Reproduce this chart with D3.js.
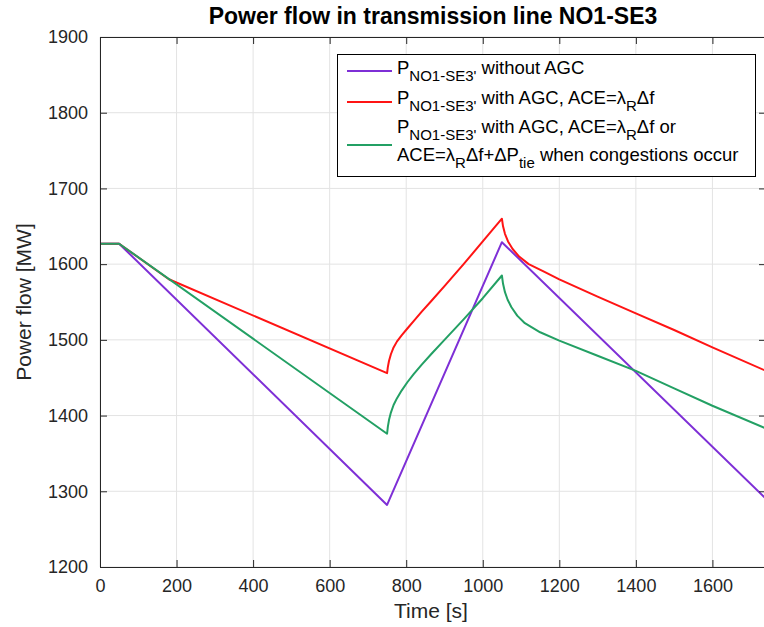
<!DOCTYPE html>
<html>
<head>
<meta charset="utf-8">
<script src="https://cdn.jsdelivr.net/npm/d3@7"></script>
<style>
  html, body { margin: 0; padding: 0; background: #fff; }
  svg { display: block; font-family: "Liberation Sans", Arial, Helvetica, sans-serif; }
</style>
</head>
<body>
<svg id="chart" width="764" height="627"></svg>
<script>
// ---- data ----
const xTicks = [0, 200, 400, 600, 800, 1000, 1200, 1400, 1600];
const yTicks = [1200, 1300, 1400, 1500, 1600, 1700, 1800, 1900];

const purpleT = [0, 50, 750, 1050, 1740];
const purpleP = [1627, 1627, 1282, 1629, 1290];

const redT = [0, 50, 180, 750, 752, 755, 760, 767, 776, 788, 803, 820, 840, 865, 900, 950, 1000, 1050,
              1053, 1058, 1066, 1078, 1095, 1120, 1160, 1200, 1300, 1400, 1500, 1600, 1740];
const redP = [1627, 1627, 1580, 1456, 1464, 1472, 1481, 1490, 1498, 1506, 1515, 1525, 1537, 1551, 1571, 1600, 1630, 1660,
              1650, 1640, 1630, 1620, 1610, 1600, 1590, 1580, 1557, 1535, 1513, 1490, 1459];

const greenT = [0, 50, 750, 752, 755, 760, 767, 776, 788, 803, 820, 840, 865, 900, 950, 1000, 1050,
                1053, 1058, 1065, 1075, 1090, 1110, 1150, 1200, 1300, 1400, 1500, 1600, 1740];
const greenP = [1627, 1627, 1376, 1385, 1394, 1404, 1414, 1423, 1433, 1444, 1455, 1467, 1481, 1500, 1527, 1555, 1585,
                1574, 1563, 1553, 1543, 1532, 1522, 1510, 1499, 1479, 1459, 1436, 1413, 1383];

const seriesColors = ["#7e2fd6", "#ff1414", "#23a064"];

// ---- layout ----
const svg = d3.select("#chart");
const L = 100, R = 766, T = 37, B = 567;
const x = d3.scaleLinear().domain([0, 1740]).range([L, R]);
const y = d3.scaleLinear().domain([1200, 1900]).range([B, T]);

const axisColor = "#262626";
const gridColor = "#e3e3e3";

// grid
const g = svg.append("g");
g.selectAll(".gx").data(xTicks).enter().append("line")
  .attr("x1", d => x(d)).attr("x2", d => x(d)).attr("y1", T).attr("y2", B)
  .attr("stroke", gridColor).attr("stroke-width", 1);
g.selectAll(".gy").data(yTicks).enter().append("line")
  .attr("x1", L).attr("x2", R).attr("y1", d => y(d)).attr("y2", d => y(d))
  .attr("stroke", gridColor).attr("stroke-width", 1);

// clip
svg.append("clipPath").attr("id", "clip").append("rect")
  .attr("x", L).attr("y", T).attr("width", R - L).attr("height", B - T);

const line = d3.line().x(d => x(d[0])).y(d => y(d[1]));
const series = [
  d3.zip(purpleT, purpleP),
  d3.zip(redT, redP),
  d3.zip(greenT, greenP)
];
const plot = svg.append("g").attr("clip-path", "url(#clip)");
series.forEach((s, i) => {
  plot.append("path").datum(s).attr("d", line)
    .attr("fill", "none").attr("stroke", seriesColors[i])
    .attr("stroke-width", 2).attr("stroke-linejoin", "round");
});

// axes (ticks inward)
const tickLen = 7;
const fmt = d3.format("d");
const xb = svg.append("g").attr("transform", `translate(0,${B})`)
  .call(d3.axisBottom(x).tickValues(xTicks).tickSize(-tickLen).tickPadding(12).tickFormat(fmt));
const xt = svg.append("g").attr("transform", `translate(0,${T})`)
  .call(d3.axisTop(x).tickValues(xTicks).tickSize(-tickLen).tickFormat(""));
const yl = svg.append("g").attr("transform", `translate(${L},0)`)
  .call(d3.axisLeft(y).tickValues(yTicks).tickSize(-tickLen).tickPadding(12).tickFormat(fmt));
const yr = svg.append("g").attr("transform", `translate(${R},0)`)
  .call(d3.axisRight(y).tickValues(yTicks).tickSize(-tickLen).tickFormat(""));
[xb, xt, yl, yr].forEach(a => {
  a.select(".domain").attr("stroke", axisColor).attr("stroke-width", 1);
  a.selectAll(".tick line").attr("stroke", axisColor);
  a.selectAll(".tick text").attr("fill", axisColor)
    .style("font-family", "'Liberation Sans', Arial, sans-serif").style("font-size", "18px");
});

// title
svg.append("text").attr("x", (L + R) / 2).attr("y", 24)
  .attr("text-anchor", "middle").attr("font-weight", "bold")
  .attr("font-size", "23px").attr("fill", "#000")
  .text("Power flow in transmission line NO1-SE3");

// axis labels
svg.append("text").attr("x", (L + R) / 2 - 2).attr("y", 618)
  .attr("text-anchor", "middle").attr("font-size", "21px").attr("fill", axisColor)
  .text("Time [s]");
svg.append("text").attr("transform", `translate(31,${(T + B) / 2}) rotate(-90)`)
  .attr("text-anchor", "middle").attr("font-size", "21px").attr("fill", axisColor)
  .text("Power flow [MW]");

// legend
const lg = svg.append("g");
lg.append("rect").attr("x", 337.5).attr("y", 54.5).attr("width", 418).attr("height", 122)
  .attr("fill", "#fff").attr("stroke", "#000").attr("stroke-width", 1);
const legendLineY = [71, 102, 145];
legendLineY.forEach((ly, i) => {
  lg.append("line").attr("x1", 347).attr("x2", 392).attr("y1", ly).attr("y2", ly)
    .attr("stroke", seriesColors[i]).attr("stroke-width", 2);
});
const FS = 18.5, SFS = 15, SUB = 7;
function legendText(yb, parts) {
  const t = lg.append("text").attr("x", 397).attr("y", yb)
    .attr("font-size", FS + "px").attr("fill", "#000");
  let sub = false;
  parts.forEach(p => {
    const isSub = p[0] === "_";
    const s = t.append("tspan").text(isSub ? p.slice(1) : p);
    if (isSub && !sub) { s.attr("dy", SUB).attr("font-size", SFS + "px"); sub = true; }
    else if (isSub) { s.attr("font-size", SFS + "px"); }
    else if (!isSub && sub) { s.attr("dy", -SUB); sub = false; }
  });
}
legendText(74, ["P", "_NO1-SE3'", " without AGC"]);
legendText(104, ["P", "_NO1-SE3'", " with AGC, ACE=λ", "_R", "Δf"]);
legendText(133, ["P", "_NO1-SE3'", " with AGC, ACE=λ", "_R", "Δf or"]);
legendText(161, ["ACE=λ", "_R", "Δf+ΔP", "_tie", " when congestions occur"]);
</script>
</body>
</html>
